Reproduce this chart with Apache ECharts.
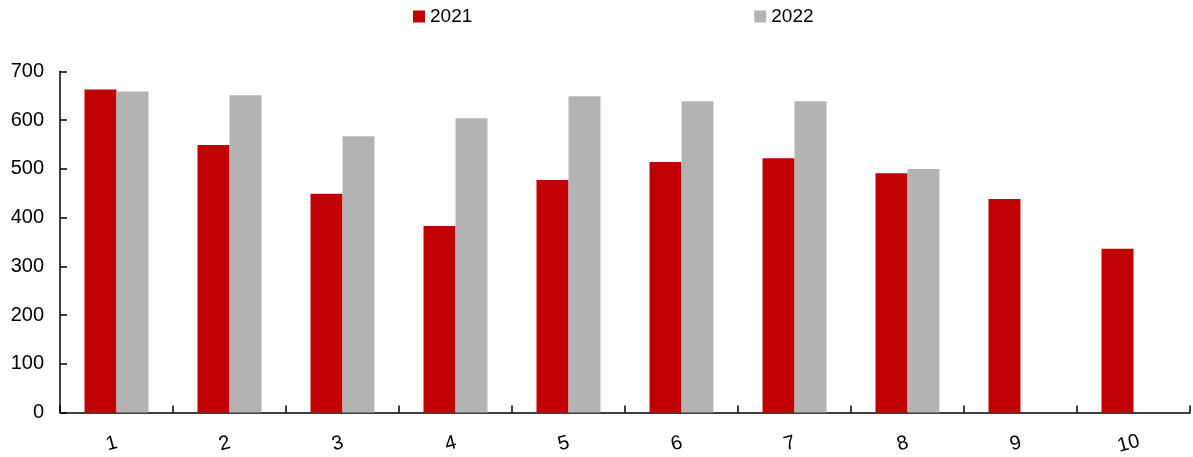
<!DOCTYPE html>
<html><head><meta charset="utf-8">
<script src="https://cdn.jsdelivr.net/npm/echarts@6/dist/echarts.min.js"></script>
<style>html,body{margin:0;padding:0;background:#fff}#c{width:1193px;height:457px}</style>
</head><body><div id="c"></div>
<script>
const categories = ['1','2','3','4','5','6','7','8','9','10'];
const values2021 = [663, 549, 449, 383, 477, 514, 522, 491, 438, 336];
const values2022 = [659, 651, 567, 604, 649, 639, 639, 500, null, null];
const yTicks = [0, 100, 200, 300, 400, 500, 600, 700];

const chart = echarts.init(document.getElementById('c'), null, {renderer:'canvas'});
const font = '"Liberation Sans", Arial, sans-serif';
chart.setOption({
  animation: false,
  textStyle: {fontFamily: font},
  legend: {
    top: 2, left: 408, icon: 'rect',
    itemWidth: 12, itemHeight: 12, itemGap: 282,
    textStyle: {fontSize: 19, color: '#000', fontFamily: font},
    data: ['2021','2022']
  },
  grid: {left: 60, right: 3, top: 71.5, bottom: 43.5, containLabel: false},
  xAxis: {
    type: 'category', data: categories,
    axisLine: {show: true, lineStyle: {color: '#000', width: 1.5}},
    axisTick: {show: true, inside: true, length: 7, interval: 0, lineStyle: {color: '#000', width: 1.5}},
    axisLabel: {fontSize: 20, color: '#000', rotate: 15, align: 'center', verticalAlign: 'middle', margin: 30, padding: [0, 10, 0, 0], fontFamily: font}
  },
  yAxis: {
    type: 'value', min: yTicks[0], max: yTicks[yTicks.length-1], interval: 100,
    splitLine: {show: false},
    axisLine: {show: true, lineStyle: {color: '#000', width: 1.5}},
    axisTick: {show: true, inside: true, length: 7, lineStyle: {color: '#000', width: 1.5}},
    axisLabel: {show: true, fontSize: 20, color: '#000', margin: 16, fontFamily: font}
  },
  series: [
    {name: '2021', type: 'bar', data: values2021, barWidth: 32, barGap: '0%', itemStyle: {color: '#C00000'}},
    {name: '2022', type: 'bar', data: values2022, barWidth: 32, barGap: '0%', itemStyle: {color: '#B3B3B3'}}
  ]
});
</script></body></html>
